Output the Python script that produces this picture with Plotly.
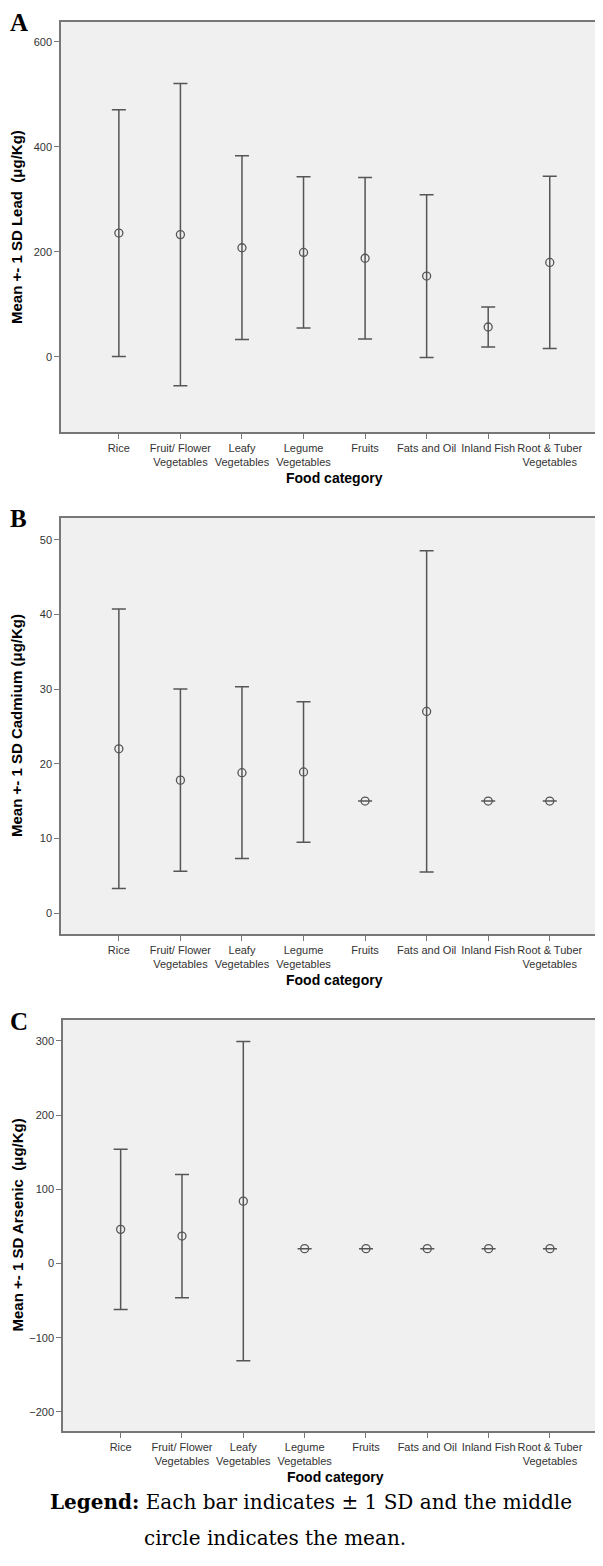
import plotly.graph_objects as go

# food categories (x axis) shared by all three panels
categories = [
    "Rice",
    "Fruit/ Flower<br>Vegetables",
    "Leafy<br>Vegetables",
    "Legume<br>Vegetables",
    "Fruits",
    "Fats and Oil",
    "Inland Fish",
    "Root & Tuber<br>Vegetables",
]

# panel A - lead (ug/Kg)
lead_mean = [236, 233, 208, 199, 188, 154, 57, 180]
lead_sd = [235, 288, 175, 144, 154, 155, 38, 164]

# panel B - cadmium (ug/Kg)
cadmium_mean = [22.0, 17.8, 18.8, 18.9, 15.0, 27.0, 15.0, 15.0]
cadmium_sd = [18.7, 12.2, 11.5, 9.4, 0, 21.5, 0, 0]

# panel C - arsenic (ug/Kg)
arsenic_mean = [46, 37, 84, 20, 20, 20, 20, 20]
arsenic_sd = [108, 83, 215, 0, 0, 0, 0, 0]

lead_ticks = [0, 200, 400, 600]
cadmium_ticks = [0, 10, 20, 30, 40, 50]
arsenic_ticks = [-200, -100, 0, 100, 200, 300]

W, H = 603, 1566
INK = "#555555"
FONT = "Liberation Sans, Arial, sans-serif"


def py(px):
    return 1 - px / H


panels = [
    dict(label="A", mean=lead_mean, sd=lead_sd, ticks=lead_ticks,
         yrange=[-143, 638], top=14, bottom=424, left=53,
         ytitle="Mean +- 1 SD Lead  (\u03bcg/Kg)"),
    dict(label="B", mean=cadmium_mean, sd=cadmium_sd, ticks=cadmium_ticks,
         yrange=[-2.8, 52.9], top=510, bottom=926, left=53,
         ytitle="Mean +- 1 SD Cadmium (\u03bcg/Kg)"),
    dict(label="C", mean=arsenic_mean, sd=arsenic_sd, ticks=arsenic_ticks,
         yrange=[-225.6, 328], top=1012, bottom=1423, left=55,
         ytitle="Mean +- 1 SD Arsenic  (\u03bcg/Kg)"),
]

fig = go.Figure()
annotations = []
layout = {}

for i, p in enumerate(panels, start=1):
    xa = "x" if i == 1 else f"x{i}"
    ya = "y" if i == 1 else f"y{i}"
    fig.add_trace(
        go.Scatter(
            x=categories,
            y=p["mean"],
            xaxis=xa,
            yaxis=ya,
            mode="markers",
            marker=dict(symbol="circle-open", size=8, color=INK,
                        line=dict(width=1.3, color=INK)),
            error_y=dict(type="data", array=p["sd"], visible=True,
                         color=INK, thickness=1.5, width=7),
            showlegend=False,
        )
    )
    layout[f"xaxis{'' if i == 1 else i}"] = dict(
        domain=[p["left"] / W, 599 / W],
        anchor=ya,
        type="category",
        range=[-0.94, 7.93],
        showline=True, mirror=True, linecolor="#777777", linewidth=1.5,
        ticks="outside", ticklen=5, tickcolor="#777777", tickangle=0,
        tickfont=dict(family=FONT, size=11, color="#333333"),
        showgrid=False, zeroline=False,
    )
    layout[f"yaxis{'' if i == 1 else i}"] = dict(
        domain=[py(p["bottom"]), py(p["top"])],
        anchor=xa,
        range=p["yrange"],
        tickvals=p["ticks"],
        showline=True, mirror=True, linecolor="#777777", linewidth=1.5,
        ticks="outside", ticklen=5, tickcolor="#777777",
        tickfont=dict(family=FONT, size=11, color="#333333"),
        showgrid=False, zeroline=False,
    )
    # panel letter
    annotations.append(dict(
        text=f"<b>{p['label']}</b>", xref="paper", yref="paper",
        x=0, y=py(p["top"] + 1), xanchor="left", yanchor="middle",
        showarrow=False, font=dict(family="Liberation Serif", size=25, color="black"),
    ))
    # y axis title
    annotations.append(dict(
        text=f"<b>{p['ytitle']}</b>", xref="paper", yref="paper",
        x=9 / W, y=py((p["top"] + p["bottom"]) / 2), xanchor="center",
        yanchor="middle", textangle=-90, showarrow=False,
        font=dict(family=FONT, size=15, color="black"),
    ))
    # x axis title
    annotations.append(dict(
        text="<b>Food category</b>", xref="paper", yref="paper",
        x=(p["left"] + 599) / 2 / W, y=py(p["bottom"] + 46),
        xanchor="center", yanchor="middle", showarrow=False,
        font=dict(family=FONT, size=14, color="black"),
    ))

annotations.append(dict(
    text="<b>Legend:</b> Each bar indicates \u00b1 1 SD and the middle",
    xref="paper", yref="paper", x=40 / W, y=py(1494),
    xanchor="left", yanchor="middle", showarrow=False,
    font=dict(family="DejaVu Serif", size=20, color="black"),
))
annotations.append(dict(
    text="circle indicates the mean.",
    xref="paper", yref="paper", x=134 / W, y=py(1530),
    xanchor="left", yanchor="middle", showarrow=False,
    font=dict(family="DejaVu Serif", size=20, color="black"),
))

fig.update_layout(
    width=W, height=H,
    margin=dict(l=0, r=0, t=0, b=0),
    paper_bgcolor="white",
    plot_bgcolor="#f0f0f0",
    annotations=annotations,
    **layout,
)

fig.write_html("out.html")
